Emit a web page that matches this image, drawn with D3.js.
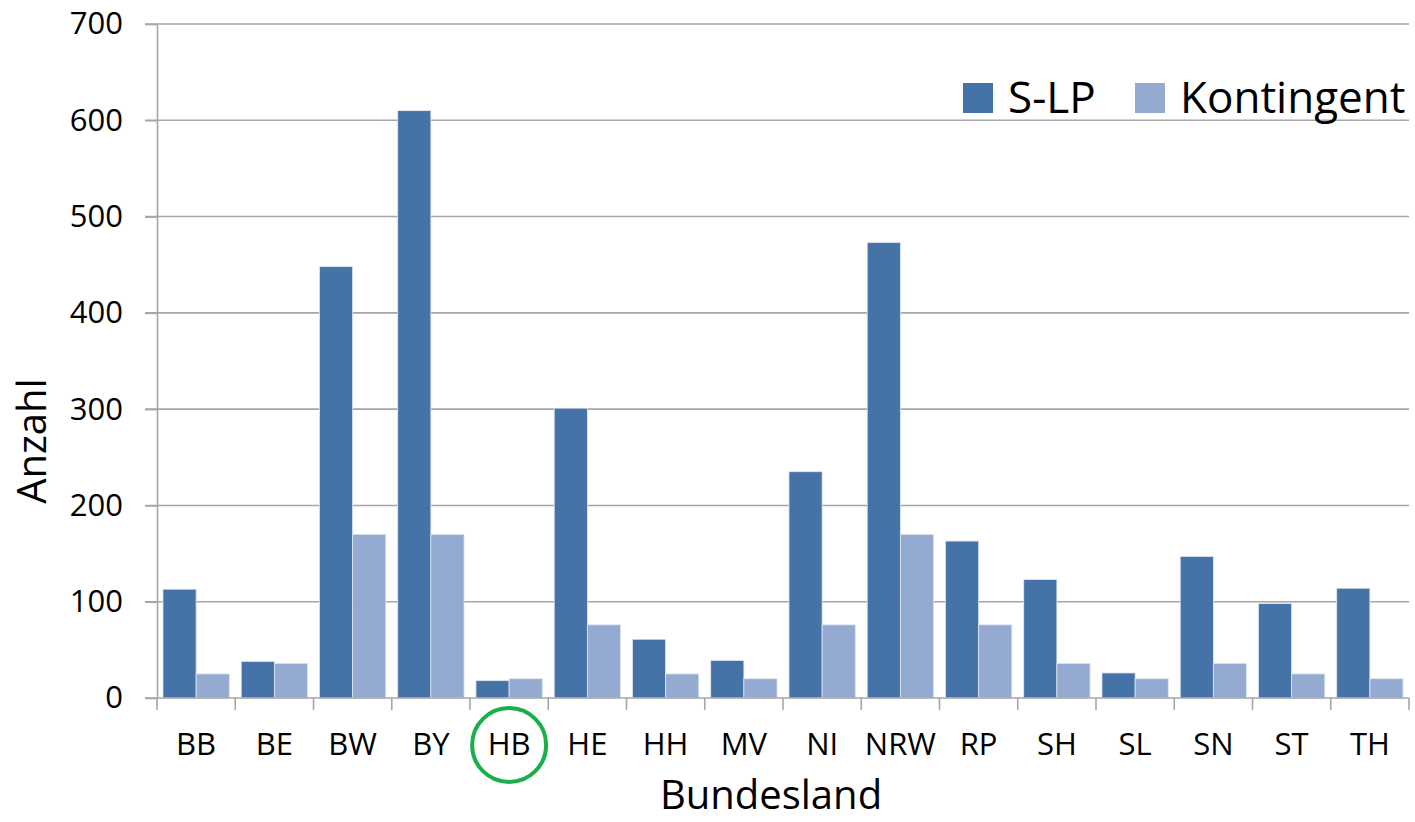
<!DOCTYPE html>
<html>
<head>
<meta charset="utf-8">
<script src="https://cdn.jsdelivr.net/npm/d3@7"></script>
<style>
  body { margin: 0; background: #fff; }
  svg text { font-family: "Open Sans", sans-serif; fill: #000; }
</style>
</head>
<body>
<div id="chart"></div>
<script>
// Bundeslaender and counts
const states = ["BB", "BE", "BW", "BY", "HB", "HE", "HH", "MV", "NI", "NRW", "RP", "SH", "SL", "SN", "ST", "TH"];
const slp = [113, 38, 448, 610, 18, 301, 61, 39, 235, 473, 163, 123, 26, 147, 98, 114];
const kontingent = [25, 36, 170, 170, 20, 76, 25, 20, 76, 170, 76, 36, 20, 36, 25, 20];
const seriesNames = ["S-LP", "Kontingent"];
const seriesColors = ["#4673a7", "#95aad0"];
const yTicks = [0, 100, 200, 300, 400, 500, 600, 700];
const highlighted = "HB";

const size = { width: 1415, height: 822 };
const margin = { top: 24, right: 6, bottom: 124, left: 157 };
const width = size.width - margin.left - margin.right;
const height = size.height - margin.top - margin.bottom;

const rows = states.map((s, i) => ({ state: s, values: [slp[i], kontingent[i]] }));

const x0 = d3.scaleBand().domain(states).range([0, width]).padding(0);
const x1 = d3.scaleBand().domain(d3.range(seriesNames.length))
    .range([0, x0.bandwidth()]).paddingInner(0).paddingOuter(0.18);
const y = d3.scaleLinear().domain([0, 700]).range([height, 0]);

const svg = d3.select("#chart").append("svg")
    .attr("width", size.width)
    .attr("height", size.height);

const g = svg.append("g")
    .attr("transform", `translate(${margin.left},${margin.top})`);

// horizontal grid lines
g.append("g").selectAll("line")
    .data(yTicks.filter(d => d > 0))
    .join("line")
    .attr("x1", -12).attr("x2", width)
    .attr("y1", d => y(d)).attr("y2", d => y(d))
    .attr("stroke", "#a6a6a6").attr("stroke-width", 1.6);

// bars
const groups = g.selectAll(".stateG")
    .data(rows)
    .join("g")
    .attr("class", "stateG")
    .attr("transform", d => `translate(${x0(d.state)},0)`);

groups.selectAll("rect")
    .data(d => d.values.map((v, k) => ({ k, v })))
    .join("rect")
    .attr("x", d => x1(d.k))
    .attr("y", d => y(d.v))
    .attr("width", x1.bandwidth())
    .attr("height", d => height - y(d.v))
    .attr("fill", d => seriesColors[d.k])
    .attr("stroke", "#dfe6f0").attr("stroke-width", 0.8);

// y axis
const yAxis = g.append("g")
    .call(d3.axisLeft(y).tickValues(yTicks).tickSize(12).tickSizeOuter(0).tickPadding(22));
yAxis.select(".domain").attr("stroke", "#a6a6a6").attr("stroke-width", 1.6);
yAxis.selectAll(".tick line").attr("stroke", "#a6a6a6").attr("stroke-width", 1.6);
yAxis.selectAll(".tick text").attr("font-size", 31).attr("font-family", "Open Sans");

// x axis: ticks on category boundaries
const xAxisG = g.append("g").attr("transform", `translate(0,${height})`);
xAxisG.append("line")
    .attr("x1", -12).attr("x2", width)
    .attr("stroke", "#a6a6a6").attr("stroke-width", 1.6);
xAxisG.selectAll(".sep")
    .data(states.concat(["end"]))
    .join("line")
    .attr("class", "sep")
    .attr("x1", (d, i) => i * x0.step()).attr("x2", (d, i) => i * x0.step())
    .attr("y1", 0).attr("y2", 12)
    .attr("stroke", "#a6a6a6").attr("stroke-width", 1.6);
xAxisG.selectAll(".lbl")
    .data(states)
    .join("text")
    .attr("class", "lbl")
    .attr("x", d => x0(d) + x0.bandwidth() / 2)
    .attr("y", 57)
    .attr("text-anchor", "middle")
    .attr("font-size", 31)
    .text(d => d);

// highlight circle around HB
xAxisG.append("ellipse")
    .attr("cx", x0(highlighted) + x0.bandwidth() / 2)
    .attr("cy", 47)
    .attr("rx", 37).attr("ry", 37)
    .attr("fill", "none")
    .attr("stroke", "#1aaf4b").attr("stroke-width", 4);

// axis titles
svg.append("text")
    .attr("x", 771)
    .attr("y", 809)
    .attr("text-anchor", "middle")
    .attr("font-size", 40)
    .text("Bundesland");

svg.append("text")
    .attr("transform", `translate(46,${margin.top + height / 2 + 80}) rotate(-90)`)
    .attr("text-anchor", "middle")
    .attr("font-size", 40)
    .text("Anzahl");

// legend
const legend = svg.append("g").attr("transform", "translate(963,83)");
const legendX = [0, 172];
seriesNames.forEach((name, i) => {
    const item = legend.append("g").attr("transform", `translate(${legendX[i]},0)`);
    item.append("rect").attr("width", 30).attr("height", 30).attr("fill", seriesColors[i]);
    item.append("text").attr("x", 45).attr("y", 30).attr("font-size", 44).text(name);
});
</script>
</body>
</html>
